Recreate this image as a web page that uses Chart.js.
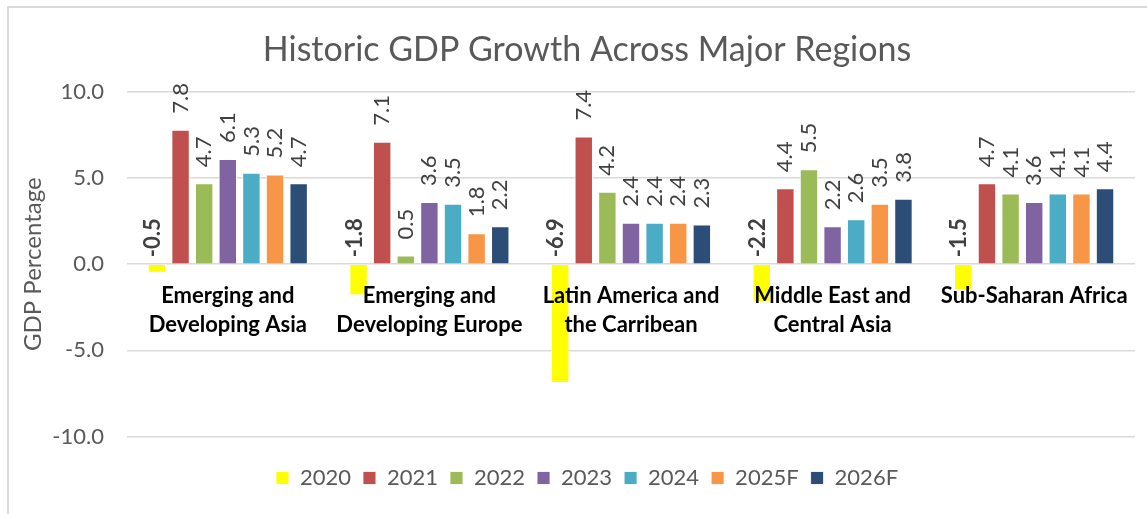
<!DOCTYPE html>
<html>
<head>
<meta charset="utf-8">
<script src="https://cdn.jsdelivr.net/npm/chart.js@4.4.0/dist/chart.umd.min.js"></script>
<style>
  html, body { margin: 0; padding: 0; background: #fff; }
  #wrap { width: 1147px; height: 514px; }
</style>
</head>
<body>
<div id="wrap"><canvas id="c"></canvas></div>
<script>
/* data */
const regions = [
  ['Emerging and', 'Developing Asia'],
  ['Emerging and', 'Developing Europe'],
  ['Latin America and', 'the Carribean'],
  ['Middle East and', 'Central Asia'],
  ['Sub-Saharan Africa']
];
const years  = ['2020', '2021', '2022', '2023', '2024', '2025F', '2026F'];
const g2020  = [-0.5, -1.8, -6.9, -2.2, -1.5];
const g2021  = [7.8, 7.1, 7.4, 4.4, 4.7];
const g2022  = [4.7, 0.5, 4.2, 5.5, 4.1];
const g2023  = [6.1, 3.6, 2.4, 2.2, 3.6];
const g2024  = [5.3, 3.5, 2.4, 2.6, 4.1];
const g2025F = [5.2, 1.8, 2.4, 3.5, 4.1];
const g2026F = [4.7, 2.2, 2.3, 3.8, 4.4];
const yTicks = [-10, -5, 0, 5, 10];

const series = [g2020, g2021, g2022, g2023, g2024, g2025F, g2026F];
const colors = ['#FFFF00', '#C0504D', '#9BBB59', '#8064A2', '#4BACC6', '#F79646', '#2C4D75'];

Chart.defaults.font.family = 'Lato, sans-serif';
Chart.defaults.color = '#595959';

/* light frame round the chart */
const frame = {
  id: 'frame',
  beforeDraw(chart) {
    const c = chart.ctx;
    c.save();
    c.strokeStyle = '#d9d9d9';
    c.lineWidth = 2;
    c.strokeRect(8, 7, 1400, 700);
    c.restore();
  }
};

/* value labels, rotated like the Excel ones */
const barLabels = {
  id: 'barLabels',
  afterDatasetsDraw(chart) {
    const c = chart.ctx;
    const zero = chart.scales.y.getPixelForValue(0);
    chart.data.datasets.forEach((ds, i) => {
      chart.getDatasetMeta(i).data.forEach((bar, j) => {
        const v = ds.data[j];
        const neg = v < 0;
        c.save();
        c.translate(neg ? bar.x - 4 : bar.x, neg ? zero - 7 : bar.y - 16);
        c.rotate(-Math.PI / 2);
        c.font = (neg ? 'bold ' : '') + '22px Lato';
        c.fillStyle = '#404040';
        c.textAlign = 'left';
        c.textBaseline = 'middle';
        c.fillText(v.toFixed(1), 0, 0);
        c.restore();
      });
    });
  }
};

new Chart('c', {
  type: 'bar',
  data: {
    labels: regions,
    datasets: years.map((y, i) => ({
      label: y,
      data: series[i],
      backgroundColor: colors[i],
      borderColor: 'rgba(255,255,255,.85)',
      borderWidth: 1,
      categoryPercentage: 0.82,
      barPercentage: 0.78
    }))
  },
  options: {
    responsive: true, maintainAspectRatio: false, animation: false,
    layout: { padding: { left: 39, right: 12, top: 0, bottom: 15 } },
    plugins: {
      title: {
        display: true,
        text: 'Historic GDP Growth Across Major Regions',
        color: '#595959',
        font: { size: 34, weight: 'normal' },
        padding: { top: 30, bottom: 21 }
      },
      legend: {
        position: 'bottom',
        title: { display: true, text: '', font: { size: 10, lineHeight: 1.85 }, padding: 0 },
        labels: { boxWidth: 13, boxHeight: 13, padding: 12, color: '#595959', font: { size: 22 } }
      },
      tooltip: { enabled: false }
    },
    scales: {
      x: {
        position: { y: 0 },
        grid: { display: false, drawTicks: false },
        border: { display: false },
        ticks: { z: 1, color: '#000', padding: 17, maxRotation: 0, autoSkip: false,
                 font: { size: 22, weight: 'bold', lineHeight: 1.32 } }
      },
      y: {
        min: -10, max: 10,
        afterFit: s => { s.width = 88; },
        afterBuildTicks: s => { s.ticks = yTicks.map(v => ({ value: v })); },
        grid: { color: '#d9d9d9', lineWidth: 1.5, drawTicks: false },
        border: { display: false },
        ticks: { padding: 23, color: '#595959', font: { size: 22 }, callback: v => v.toFixed(1) },
        title: { display: true, text: 'GDP Percentage', color: '#595959',
                 font: { size: 24 }, padding: { top: -20, bottom: 0 } }
      }
    }
  },
  plugins: [frame, barLabels]
});
</script>
</body>
</html>
